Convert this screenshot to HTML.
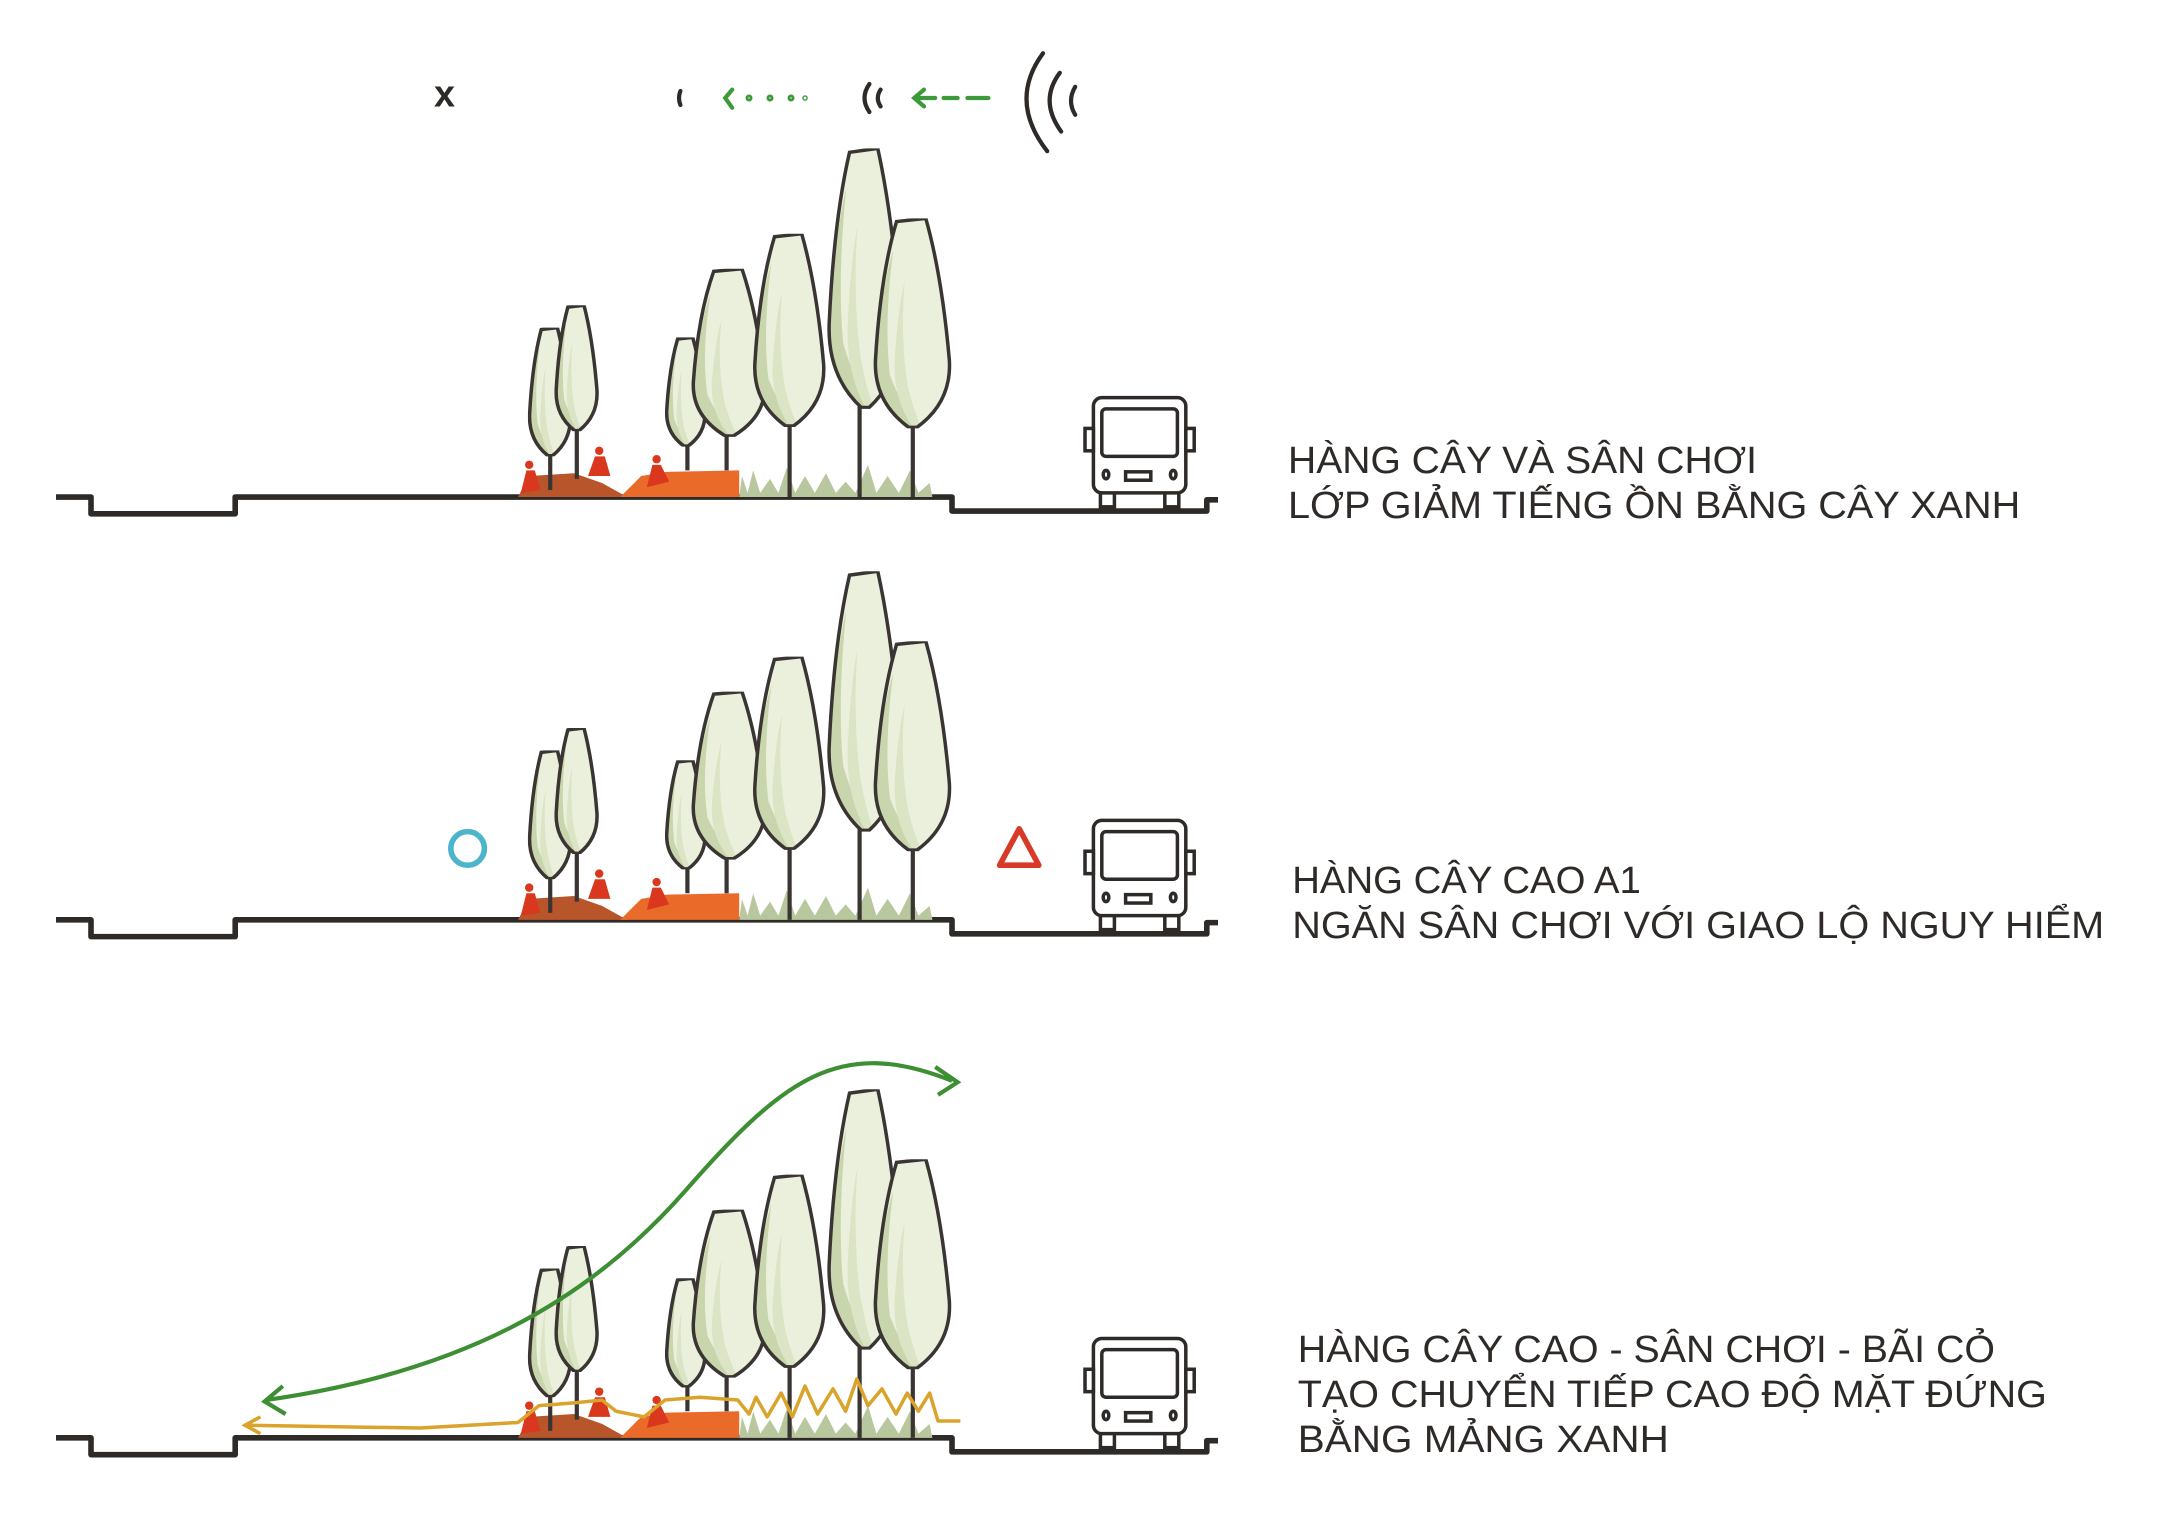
<!DOCTYPE html>
<html><head><meta charset="utf-8"><style>
html,body{margin:0;padding:0;background:#fff;}
svg{display:block;}
text{font-family:"Liberation Sans",sans-serif;fill:#2e2a28;font-size:27px;}
</style></head><body>
<svg width="2178" height="1536" viewBox="0 0 1555.7 1097.1" preserveAspectRatio="none" xmlns="http://www.w3.org/2000/svg">
<defs>
<symbol id="tree" viewBox="0 0 100 400" preserveAspectRatio="none">
<path d="M30,6 L66,0 Q86,110 95,270 Q98,350 55,398 L45,398 Q2,350 4,270 Q10,110 30,6Z" fill="#eaf0dc"/>
<path d="M26,60 Q14,200 22,300 Q40,370 60,396 L45,398 Q2,350 4,270 Q10,140 26,60Z" fill="#c9d6ad"/>
<path d="M40,120 Q34,230 44,320 Q52,370 60,396 L50,398 Q24,340 28,260 Q32,170 40,120Z" fill="#dbe4c5"/>
<path d="M30,6 L66,0 Q86,110 95,270 Q98,350 55,398 L45,398 Q2,350 4,270 Q10,110 30,6Z" fill="none" stroke="#3a3533" stroke-width="3.5" vector-effect="non-scaling-stroke"/>
</symbol>
<g id="sec">
<path d="M40,355 L65,355 L65,367 L168,367 L168,355 L680,355 L680,365 L862,365 L862,357 L870,357" fill="none" stroke="#2e2a28" stroke-width="4" stroke-linejoin="round"/>
<path d="M528,355 L530,340 L534,352 L538,336 L543,352 L550,342 L556,352 L562,334 L568,352 L575,340 L582,352 L590,338 L597,352 L604,344 L611,352 L620,332 L626,352 L634,340 L642,352 L650,336 L656,352 L664,345 L666,355Z" fill="#b9c79f"/>
<path d="M370,355 L378,340 L410,338 L430,345 L448,355Z" fill="#b8552a"/>
<path d="M443,355 L458,340 L476,337 L528,336 L528,355Z" fill="#ea6a2a"/>
<g stroke="#3a3533" stroke-width="3">
<line x1="393" y1="320" x2="393" y2="350"/><line x1="412" y1="305" x2="412" y2="342"/>
<line x1="491" y1="315" x2="491" y2="336"/><line x1="519" y1="305" x2="519" y2="336"/>
<line x1="564" y1="300" x2="564" y2="355"/><line x1="614" y1="285" x2="614" y2="355"/>
<line x1="652" y1="302" x2="652" y2="355"/>
</g>
<use href="#tree" x="377" y="234" width="32" height="92"/>
<use href="#tree" x="396" y="218" width="32" height="90"/>
<use href="#tree" x="475" y="241" width="30" height="78"/>
<use href="#tree" x="493" y="192" width="56" height="120"/>
<use href="#tree" x="537" y="167" width="54" height="138"/>
<use href="#tree" x="590" y="106" width="56" height="186"/>
<use href="#tree" x="623" y="156" width="58" height="150"/>
<g fill="#d9381f">
<path d="M372,352 L376,336 L382,336 L386,350Z"/><circle cx="378" cy="332" r="3"/>
<path d="M420,340 L425,326 L432,326 L436,340Z"/><circle cx="428" cy="322" r="3"/>
<path d="M462,348 L466,332 L472,332 L478,344Z"/><circle cx="469" cy="328" r="3"/>
</g>
<g fill="#fff" stroke="#2e2a28" stroke-width="2.5">
<rect x="786" y="350" width="10" height="12"/><rect x="832" y="350" width="10" height="12"/>
<rect x="781" y="284" width="66" height="68" rx="6"/>
<rect x="787" y="292" width="54" height="34" rx="3"/>
<rect x="775" y="306" width="6" height="16"/><rect x="847" y="306" width="6" height="16"/>
<rect x="804" y="337" width="18" height="6"/>
<ellipse cx="790" cy="339" rx="2" ry="3"/><ellipse cx="838" cy="339" rx="2" ry="3"/>
</g>
</g>
</defs>

<use href="#sec"/>
<use href="#sec" y="302"/>
<use href="#sec" y="672"/>

<text x="310" y="76" font-size="20" font-weight="bold" style="fill:#2e2a28">x</text>
<g fill="none" stroke="#2e2a28" stroke-width="3" stroke-linecap="round">
<path d="M486,65 Q484,70 486,75"/>
<path d="M621,60 Q614,70 621,80"/><path d="M629,64 Q625,70 629,76"/>
<path d="M745,38 Q720,72 748,108"/><path d="M757,52 Q742,72 758,94"/><path d="M768,62 Q762,72 768,82"/>
</g>
<g fill="none" stroke="#3c9a3a" stroke-width="3" stroke-linecap="round">
<path d="M523,64 L518,70 L523,77"/>
<circle cx="535" cy="70" r="1"/><circle cx="550" cy="70" r="1"/><circle cx="565" cy="70" r="1"/>
<circle cx="575" cy="70" r="0.5"/>
<path d="M660,64 L653,70 L660,76 M653,70 L668,70 M674,70 L684,70 M691,70 L706,70"/>
</g>

<circle cx="334" cy="606" r="12" fill="none" stroke="#4cb5cc" stroke-width="4"/>
<path d="M728,592 L742,618 L714,618Z" fill="none" stroke="#d93a28" stroke-width="4" stroke-linejoin="round"/>

<path d="M190,1000 C330,980 420,930 490,850 C560,770 600,740 680,772" fill="none" stroke="#3e8f34" stroke-width="3"/>
<path d="M668,762 L684,773 L670,782" fill="none" stroke="#3e8f34" stroke-width="3"/>
<path d="M202,990 L189,1001 L204,1010" fill="none" stroke="#3e8f34" stroke-width="3"/>
<path d="M176,1018 L300,1020 L370,1016 L385,1004 L410,1002 L430,1000 L440,1008 L460,1012 L475,1000 L500,998 L527,1000 L535,1010 L540,998 L548,1012 L558,995 L566,1012 L575,990 L584,1010 L595,992 L604,1008 L612,985 L620,1004 L630,992 L640,1010 L648,995 L656,1008 L664,995 L670,1015 L686,1015" fill="none" stroke="#d9a32c" stroke-width="2.5" stroke-linejoin="round"/>
<path d="M186,1012 L175,1018 L186,1024" fill="none" stroke="#d9a32c" stroke-width="2.5"/>

<text x="920" y="338" textLength="335" lengthAdjust="spacingAndGlyphs">HÀNG CÂY VÀ SÂN CHƠI</text>
<text x="920" y="370" textLength="523" lengthAdjust="spacingAndGlyphs">LỚP GIẢM TIẾNG ỒN BẰNG CÂY XANH</text>
<text x="923" y="638" textLength="249" lengthAdjust="spacingAndGlyphs">HÀNG CÂY CAO A1</text>
<text x="923" y="670" textLength="580" lengthAdjust="spacingAndGlyphs">NGĂN SÂN CHƠI VỚI GIAO LỘ NGUY HIỂM</text>
<text x="927" y="973" textLength="498" lengthAdjust="spacingAndGlyphs">HÀNG CÂY CAO - SÂN CHƠI - BÃI CỎ</text>
<text x="927" y="1005" textLength="535" lengthAdjust="spacingAndGlyphs">TẠO CHUYỂN TIẾP CAO ĐỘ MẶT ĐỨNG</text>
<text x="927" y="1037" textLength="265" lengthAdjust="spacingAndGlyphs">BẰNG MẢNG XANH</text>
</svg>
</body></html>
